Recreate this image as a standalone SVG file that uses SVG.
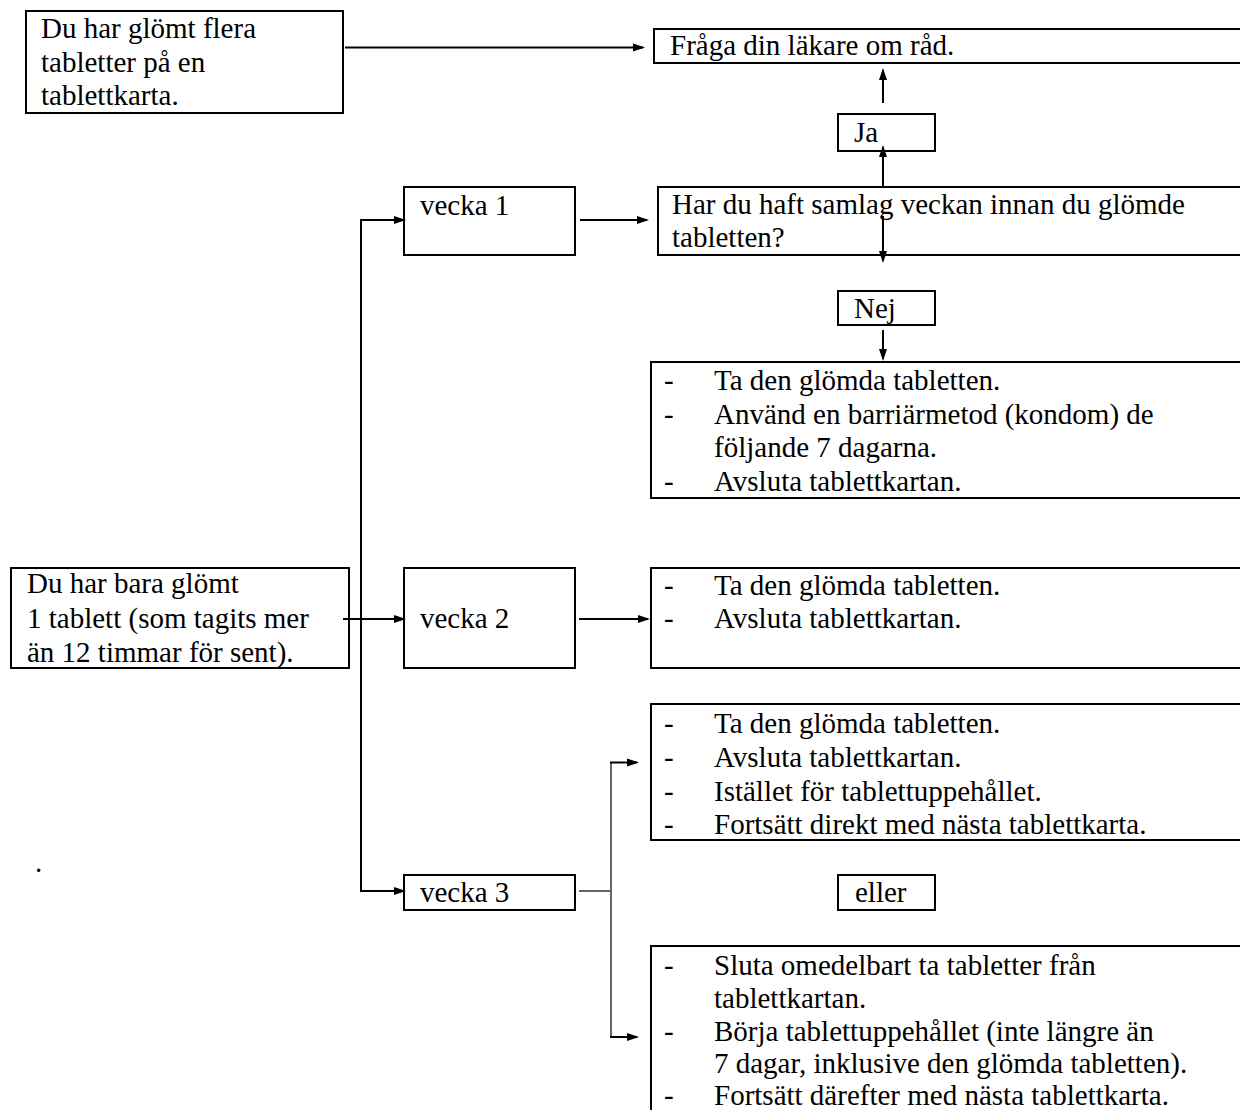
<svg xmlns="http://www.w3.org/2000/svg" width="1240" height="1110" viewBox="0 0 1240 1110">
<style>
  .box { fill: #ffffff; stroke: #000000; stroke-width: 2; }
  .t { font-family: "Liberation Serif", "Times New Roman", serif; font-size: 29px; fill: #000000; }
  .c { fill: none; stroke: #000000; stroke-width: 2; }
  .a { fill: none; stroke: #000000; stroke-width: 2; marker-end: url(#arr); }
  .thin { fill: none; stroke: #333333; stroke-width: 1.5; }
</style>
<defs>
  <marker id="arr" markerUnits="userSpaceOnUse" markerWidth="12" markerHeight="10" refX="10" refY="5" orient="auto">
    <path d="M0,1 L12,5 L0,9 Z" fill="#000000"/>
  </marker>
</defs>
<rect width="1240" height="1110" fill="#ffffff"/>

<g id="node-flera">
  <rect class="box" x="26" y="11" width="317" height="102"/>
  <text class="t" x="41" y="38">Du har glömt flera</text>
  <text class="t" x="41" y="72">tabletter på en</text>
  <text class="t" x="41" y="105">tablettkarta.</text>
</g>

<g id="node-fraga">
  <rect class="box" x="654" y="29" width="620" height="34"/>
  <text class="t" x="670" y="55">Fråga din läkare om råd.</text>
</g>

<g id="node-ja">
  <rect class="box" x="838" y="114" width="97" height="37"/>
  <text class="t" x="854" y="142">Ja</text>
</g>

<g id="node-vecka1">
  <rect class="box" x="404" y="187" width="171" height="68"/>
  <text class="t" x="420" y="215">vecka 1</text>
</g>

<g id="node-samlag">
  <rect class="box" x="658" y="187" width="620" height="68"/>
  <text class="t" x="672" y="214">Har du haft samlag veckan innan du glömde</text>
  <text class="t" x="672" y="247">tabletten?</text>
</g>

<g id="node-nej">
  <rect class="box" x="838" y="291" width="97" height="34"/>
  <text class="t" x="854" y="318">Nej</text>
</g>

<g id="node-vecka1-result">
  <rect class="box" x="651" y="362" width="620" height="136"/>
  <text class="t" x="664" y="390">-</text>
  <text class="t" x="714" y="390">Ta den glömda tabletten.</text>
  <text class="t" x="664" y="424">-</text>
  <text class="t" x="714" y="424">Använd en barriärmetod (kondom) de</text>
  <text class="t" x="714" y="457">följande 7 dagarna.</text>
  <text class="t" x="664" y="491">-</text>
  <text class="t" x="714" y="491">Avsluta tablettkartan.</text>
</g>

<g id="node-bara">
  <rect class="box" x="11" y="568" width="338" height="100"/>
  <text class="t" x="27" y="593">Du har bara glömt</text>
  <text class="t" x="27" y="628">1 tablett (som tagits mer</text>
  <text class="t" x="27" y="662">än 12 timmar för sent).</text>
</g>

<g id="node-vecka2">
  <rect class="box" x="404" y="568" width="171" height="100"/>
  <text class="t" x="420" y="628">vecka 2</text>
</g>

<g id="node-vecka2-result">
  <rect class="box" x="651" y="568" width="620" height="100"/>
  <text class="t" x="664" y="595">-</text>
  <text class="t" x="714" y="595">Ta den glömda tabletten.</text>
  <text class="t" x="664" y="628">-</text>
  <text class="t" x="714" y="628">Avsluta tablettkartan.</text>
</g>

<g id="node-vecka3-option1">
  <rect class="box" x="651" y="704" width="620" height="136"/>
  <text class="t" x="664" y="733">-</text>
  <text class="t" x="714" y="733">Ta den glömda tabletten.</text>
  <text class="t" x="664" y="767">-</text>
  <text class="t" x="714" y="767">Avsluta tablettkartan.</text>
  <text class="t" x="664" y="801">-</text>
  <text class="t" x="714" y="801">Istället för tablettuppehållet.</text>
  <text class="t" x="664" y="834">-</text>
  <text class="t" x="714" y="834">Fortsätt direkt med nästa tablettkarta.</text>
</g>

<g id="node-dot">
  <text class="t" x="35" y="872">.</text>
</g>

<g id="node-vecka3">
  <rect class="box" x="404" y="875" width="171" height="35"/>
  <text class="t" x="420" y="902">vecka 3</text>
</g>

<g id="node-eller">
  <rect class="box" x="838" y="875" width="97" height="35"/>
  <text class="t" x="855" y="902">eller</text>
</g>

<g id="node-vecka3-option2">
  <rect class="box" x="651" y="946" width="620" height="200"/>
  <text class="t" x="664" y="975">-</text>
  <text class="t" x="714" y="975">Sluta omedelbart ta tabletter från</text>
  <text class="t" x="714" y="1008">tablettkartan.</text>
  <text class="t" x="664" y="1041">-</text>
  <text class="t" x="714" y="1041">Börja tablettuppehållet (inte längre än</text>
  <text class="t" x="714" y="1073">7 dagar, inklusive den glömda tabletten).</text>
  <text class="t" x="664" y="1105">-</text>
  <text class="t" x="714" y="1105">Fortsätt därefter med nästa tablettkarta.</text>
</g>

<g id="connectors">
  <path class="a" d="M345,47.5 H643"/>
  <path class="a" d="M883,103 V70"/>
  <path class="a" d="M883,187 V147"/>
  <path class="a" d="M883,216 V261"/>
  <path class="a" d="M883,330 V359"/>
  <path class="c" d="M361,891 V220"/>
  <path class="a" d="M360,220 H404"/>
  <path class="a" d="M580,220 H647"/>
  <path class="a" d="M343,619 H404"/>
  <path class="a" d="M579,619 H648"/>
  <path class="a" d="M360,891 H404"/>
  <path class="thin" d="M579,891 H610"/>
  <path class="thin" d="M611,762 V1037"/>
  <path class="a" d="M610,762.5 H637"/>
  <path class="a" d="M610,1037 H637"/>
</g>
</svg>
